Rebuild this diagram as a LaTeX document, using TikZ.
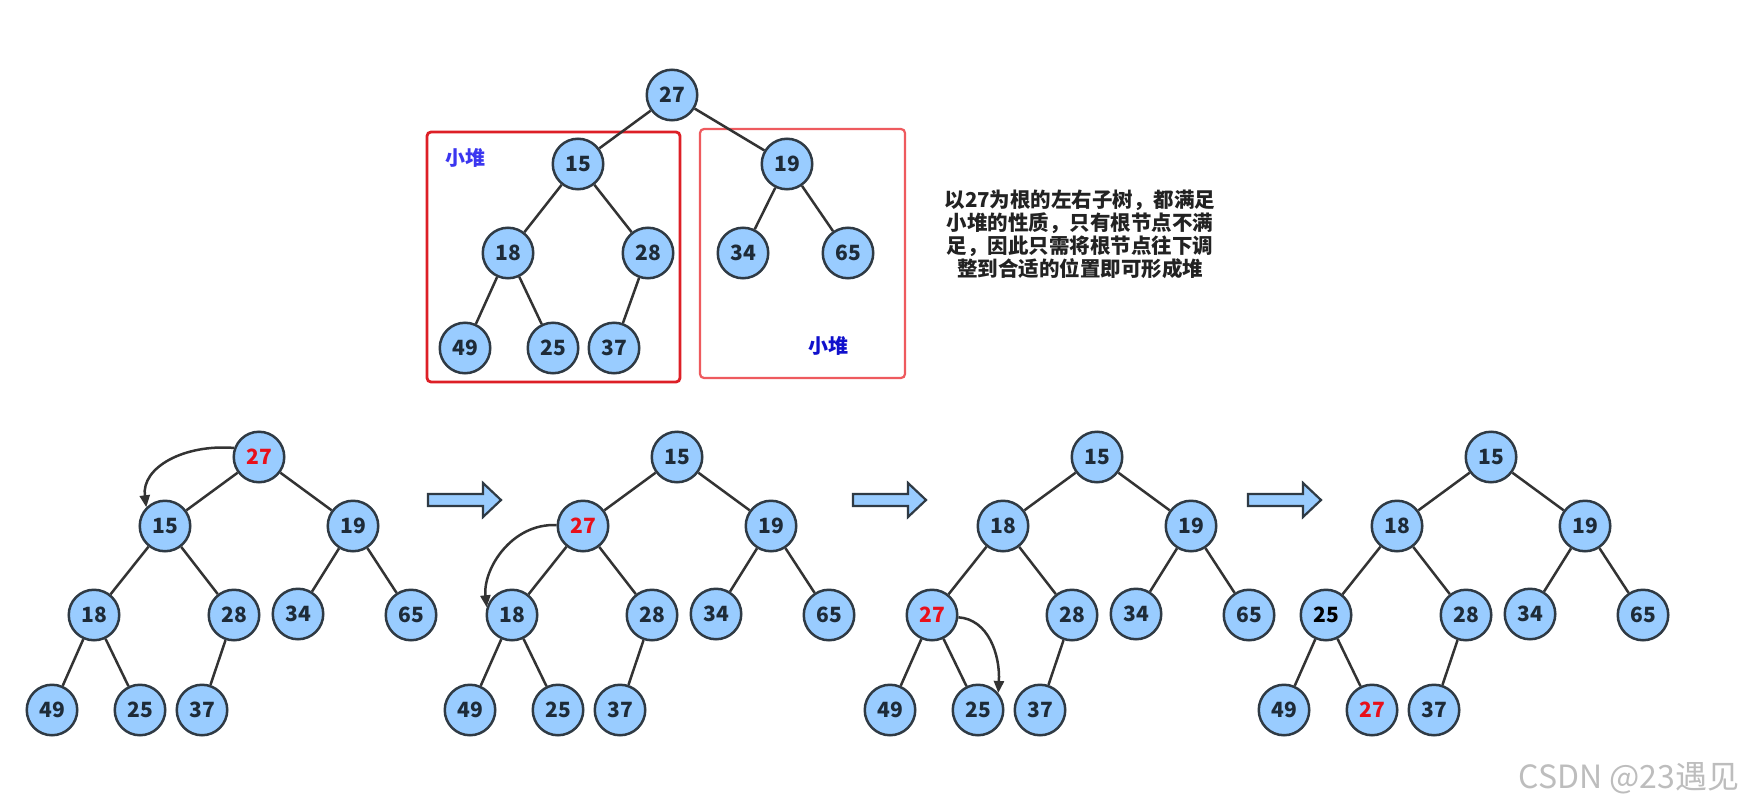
\documentclass[tikz,border=0pt]{standalone}
\usepackage{fontspec}
\setmainfont{Noto Sans CJK SC}
\usetikzlibrary{arrows.meta}
\definecolor{nodefill}{HTML}{99CCFF}
\definecolor{nodeline}{HTML}{2F3A44}
\definecolor{numtext}{HTML}{1E2B38}
\definecolor{hotred}{HTML}{E8101A}
\definecolor{edgecol}{HTML}{333333}
\definecolor{boxred}{HTML}{DD1F26}
\definecolor{boxredlight}{HTML}{EE5A5E}
\definecolor{bluea}{HTML}{3B36F0}
\definecolor{blueb}{HTML}{1010CC}
\definecolor{textgray}{HTML}{222222}
\definecolor{wmgray}{HTML}{BDBDBD}
\tikzset{
  hn/.style={circle, draw=nodeline, line width=2.5pt, fill=nodefill, minimum size=50.5pt, inner sep=0pt,
    font=\fontsize{21}{25}\selectfont\bfseries, text=numtext},
  hot/.style={text=hotred},
  blk/.style={text=black},
  edge/.style={draw=edgecol, line width=2.5pt},
  swap/.style={draw=edgecol, line width=2.5pt, -{Triangle[length=12pt,width=10pt]}},
  blockarrow/.style={draw=nodeline, line width=2.2pt, fill=nodefill, line join=miter},
  heaplabel/.style={font=\fontsize{20}{24}\selectfont\bfseries},
}
\newcommand\heapedges{%
  \draw[edge] (rt)--(L) (rt)--(R) (L)--(LL) (L)--(LR) (R)--(RL) (R)--(RR)
              (LL)--(LLL) (LL)--(LLR) (LR)--(LRL);}
\begin{document}
\begin{tikzpicture}[x=1pt,y=-1pt]
\useasboundingbox (0,0) rectangle (1747,808);
\fill[white] (0,0) rectangle (1747,808);

% ---------- top tree ----------
\draw[boxred, line width=2.8pt, rounded corners=4pt] (427,132) rectangle (680,382);
\draw[boxredlight, line width=2.2pt, rounded corners=4pt] (700,129) rectangle (905,378);
\node[heaplabel, text=bluea] (lblA) at (465,158) {小堆};
\node[heaplabel, text=blueb] (lblB) at (828,346) {小堆};
\begin{scope}[name prefix=T-]
\node[hn] (rt)  at (672,95)  {27};
\node[hn] (L)   at (578,164) {15};
\node[hn] (R)   at (787,164) {19};
\node[hn] (LL)  at (508,253) {18};
\node[hn] (LR)  at (648,253) {28};
\node[hn] (RL)  at (743,253) {34};
\node[hn] (RR)  at (848,253) {65};
\node[hn] (LLL) at (465,348) {49};
\node[hn] (LLR) at (553,348) {25};
\node[hn] (LRL) at (614,348) {37};
\heapedges
\end{scope}

\node[align=center, font=\fontsize{20.5}{23}\selectfont\bfseries, text=textgray] (note) at (1080,234)
  {以27为根的左右子树，都满足\\小堆的性质，只有根节点不满\\足，因此只需将根节点往下调\\整到合适的位置即可形成堆};

% ---------- tree 1 ----------
\begin{scope}[shift={(259,457)}, name prefix=A-]
\node[hn,hot] (rt)  at (0,0)      {27};
\node[hn] (L)   at (-94,69)   {15};
\node[hn] (R)   at (94,69)    {19};
\node[hn] (LL)  at (-165,158) {18};
\node[hn] (LR)  at (-25,158)  {28};
\node[hn] (RL)  at (39,157)   {34};
\node[hn] (RR)  at (152,158)  {65};
\node[hn] (LLL) at (-207,253) {49};
\node[hn] (LLR) at (-119,253) {25};
\node[hn] (LRL) at (-57,253)  {37};
\heapedges
\draw[swap] (rt.160) .. controls +(-50,-4) and +(-5,-40) .. (L.north west);
\end{scope}

% ---------- tree 2 ----------
\begin{scope}[shift={(677,457)}, name prefix=B-]
\node[hn] (rt)  at (0,0)      {15};
\node[hn,hot] (L)   at (-94,69)   {27};
\node[hn] (R)   at (94,69)    {19};
\node[hn] (LL)  at (-165,158) {18};
\node[hn] (LR)  at (-25,158)  {28};
\node[hn] (RL)  at (39,157)   {34};
\node[hn] (RR)  at (152,158)  {65};
\node[hn] (LLL) at (-207,253) {49};
\node[hn] (LLR) at (-119,253) {25};
\node[hn] (LRL) at (-57,253)  {37};
\heapedges
\draw[swap] (L.178) .. controls +(-45,-2) and +(-4,-38) .. (LL.163);
\end{scope}

% ---------- tree 3 ----------
\begin{scope}[shift={(1097,457)}, name prefix=C-]
\node[hn] (rt)  at (0,0)      {15};
\node[hn] (L)   at (-94,69)   {18};
\node[hn] (R)   at (94,69)    {19};
\node[hn,hot] (LL)  at (-165,158) {27};
\node[hn] (LR)  at (-25,158)  {28};
\node[hn] (RL)  at (39,157)   {34};
\node[hn] (RR)  at (152,158)  {65};
\node[hn] (LLL) at (-207,253) {49};
\node[hn] (LLR) at (-119,253) {25};
\node[hn] (LRL) at (-57,253)  {37};
\heapedges
\draw[swap] (LL.-5) .. controls +(30,2) and +(2,-38) .. (LLR.40);
\end{scope}

% ---------- tree 4 ----------
\begin{scope}[shift={(1491,457)}, name prefix=D-]
\node[hn] (rt)  at (0,0)      {15};
\node[hn] (L)   at (-94,69)   {18};
\node[hn] (R)   at (94,69)    {19};
\node[hn,blk] (LL)  at (-165,158) {25};
\node[hn] (LR)  at (-25,158)  {28};
\node[hn] (RL)  at (39,157)   {34};
\node[hn] (RR)  at (152,158)  {65};
\node[hn] (LLL) at (-207,253) {49};
\node[hn,hot] (LLR) at (-119,253) {27};
\node[hn] (LRL) at (-57,253)  {37};
\heapedges
\end{scope}

% ---------- block arrows ----------
\foreach \x in {428,853,1248}{
  \draw[blockarrow] (\x,494) -- (\x+55,494) -- (\x+55,483) -- (\x+73,500) -- (\x+55,517) -- (\x+55,506) -- (\x,506) -- cycle;
}

\node[font=\fontsize{32}{32}\selectfont, text=wmgray, anchor=east] (wm) at (1743,778) {CSDN @23遇见};
\end{tikzpicture}
\end{document}
